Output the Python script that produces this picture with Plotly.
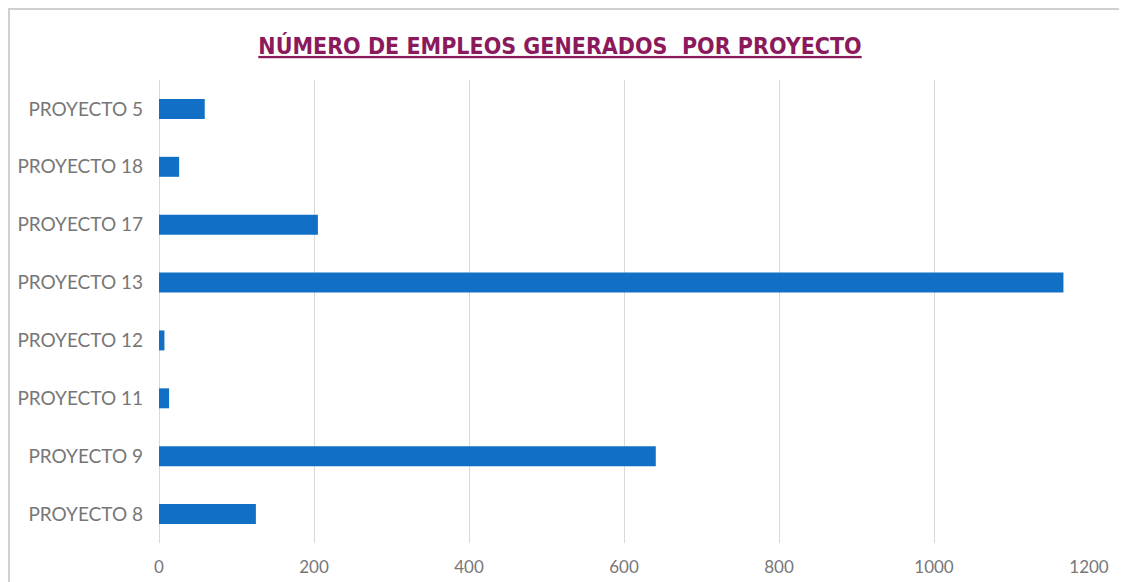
import plotly.graph_objects as go

# Data (bottom to top)
proyectos = ['PROYECTO 8', 'PROYECTO 9', 'PROYECTO 11', 'PROYECTO 12',
             'PROYECTO 13', 'PROYECTO 17', 'PROYECTO 18', 'PROYECTO 5']
empleos = [125, 641, 13, 7, 1167, 205, 26, 59]
x_ticks = [0, 200, 400, 600, 800, 1000, 1200]

bar_color = '#1170C6'
grid_color = '#D9D9D9'
label_color = '#777777'
title_color = '#8B1A5C'

fig = go.Figure()

fig.add_trace(go.Bar(
    y=proyectos,
    x=empleos,
    orientation='h',
    marker=dict(color=bar_color, line=dict(width=0)),
    hoverinfo='x+y'
))

# page body has an 8px margin, so the figure is sized/offset to compensate
fig.update_layout(
    width=1119,
    height=574,
    paper_bgcolor='white',
    plot_bgcolor='white',
    margin=dict(l=151, r=38, t=72, b=39),
    bargap=0.655,
    showlegend=False,
    title=dict(
        text='<u><b>NÚMERO DE EMPLEOS GENERADOS  POR PROYECTO</b></u>',
        x=0.4933, xanchor='center', y=0.934, yanchor='middle',
        font=dict(family='DejaVu Sans Condensed, Roboto, sans-serif', size=23, color=title_color)
    ),
    font=dict(family='Lato, Noto Sans, sans-serif', color=label_color),
    shapes=[
        # light frame around the chart area
        dict(type='rect', xref='paper', yref='paper',
             x0=-0.1613, x1=1.2, y0=-0.3, y1=1.1533,
             line=dict(color='#D0D0D0', width=2), fillcolor='rgba(0,0,0,0)', layer='below')
    ]
)

fig.update_xaxes(
    range=[0, 1200],
    tickvals=x_ticks,
    showgrid=True,
    gridcolor=grid_color,
    gridwidth=1,
    zeroline=True,
    zerolinecolor=grid_color,
    zerolinewidth=1,
    showline=False,
    ticks='',
    ticklabelstandoff=12,
    automargin=False,
    tickfont=dict(size=17, color=label_color),
    fixedrange=True
)

fig.update_yaxes(
    categoryorder='array',
    categoryarray=proyectos,
    showgrid=False,
    showline=False,
    ticks='',
    ticklabelstandoff=15,
    automargin=False,
    tickfont=dict(size=19, color=label_color),
    fixedrange=True
)

fig.write_html('out.html')
